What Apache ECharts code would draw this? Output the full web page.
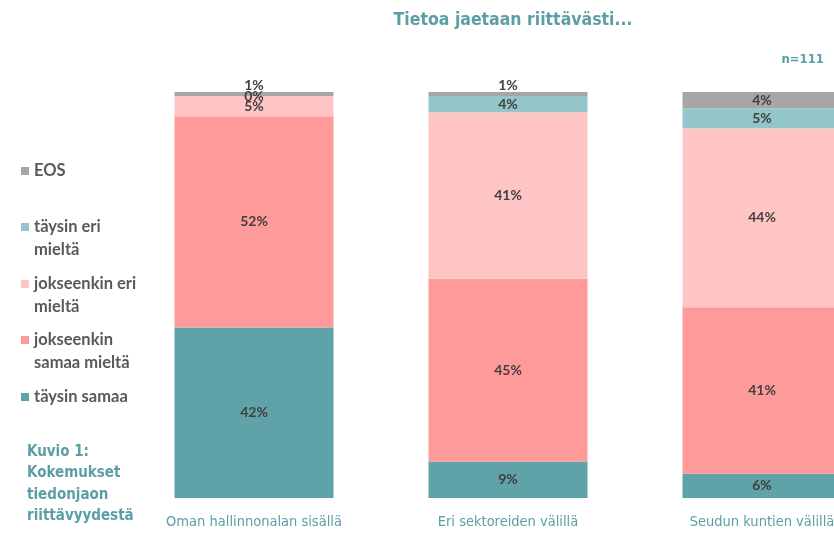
<!DOCTYPE html>
<html><head><meta charset="utf-8">
<script src="https://cdn.jsdelivr.net/npm/echarts@6/dist/echarts.min.js"></script>
<style>html,body{margin:0;padding:0;background:#fff}#c{width:834px;height:534px}</style>
</head><body><div id="c"></div>
<script>
const categories = ['Oman hallinnonalan sisällä', 'Eri sektoreiden välillä', 'Seudun kuntien välillä'];
const seriesNames = ['täysin samaa', 'jokseenkin samaa mieltä', 'jokseenkin eri mieltä', 'täysin eri mieltä', 'EOS'];
const taysinSamaa = [42, 9, 6];
const jokseenkinSamaa = [52, 45, 41];
const jokseenkinEri = [5, 41, 44];
const taysinEri = [0, 4, 5];
const eos = [1, 1, 4];
const colors = ['#5fa2a8', '#ff9a9a', '#ffc5c5', '#93c5ca', '#a6a6a6'];
const legendTexts = {
  'EOS': 'EOS',
  'täysin eri mieltä': 'täysin eri\nmieltä',
  'jokseenkin eri mieltä': 'jokseenkin eri\nmieltä',
  'jokseenkin samaa mieltä': 'jokseenkin\nsamaa mieltä',
  'täysin samaa': 'täysin samaa'
};
const legendY = { 'EOS': 171, 'täysin eri mieltä': 227, 'jokseenkin eri mieltä': 284, 'jokseenkin samaa mieltä': 340, 'täysin samaa': 397 };

const condensed = "'DejaVu Sans Condensed', sans-serif";
const teal = '#5b9fa6';
const allData = [taysinSamaa, jokseenkinSamaa, jokseenkinEri, taysinEri, eos];

const series = seriesNames.map((name, si) => ({
  name, type: 'bar', stack: 'a', barWidth: 159,
  itemStyle: { color: colors[si] },
  emphasis: { disabled: true },
  data: allData[si].map((v, ci) => {
    const d = { value: v };
    if (si === 4 && v <= 1) d.label = { position: 'top', distance: 0 };
    return d;
  }),
  label: {
    show: true, position: 'inside', formatter: '{c}%',
    fontFamily: 'Lato', fontWeight: 'bold', fontSize: 14, color: '#404040'
  }
}));

const legends = seriesNames.map(name => {
  const two = legendTexts[name].indexOf('\n') >= 0;
  return {
    data: [name], orient: 'vertical', left: 21,
    top: two ? legendY[name] - 34.5 : legendY[name] - 11.5,
    padding: 0, itemWidth: 8, itemHeight: 8, icon: 'rect', itemGap: 0,
    selectedMode: false,
    formatter: n => (two ? ' \n' : '') + legendTexts[n],
    textStyle: { fontFamily: 'Lato', fontWeight: 'bold', fontSize: 16.5, color: '#595959', lineHeight: 23 }
  };
});

const chart = echarts.init(document.getElementById('c'));
chart.setOption({
  backgroundColor: '#fff',
  animation: false,
  title: [
    { text: 'Tietoa jaetaan riittävästi...', left: 513, textAlign: 'center', top: 11, padding: 0,
      textStyle: { fontFamily: condensed, fontWeight: 'bold', fontSize: 17.5, color: teal } },
    { text: 'n=111', right: 10, top: 53, padding: 0,
      textStyle: { fontFamily: condensed, fontWeight: 'bold', fontSize: 13, color: teal } },
    { text: 'Kuvio 1:\nKokemukset\ntiedonjaon\nriittävyydestä', left: 27, top: 441, padding: 0,
      textStyle: { fontFamily: condensed, fontWeight: 'bold', fontSize: 15, lineHeight: 21.5, color: teal } }
  ],
  legend: legends,
  grid: { left: 127, width: 762, top: 92, bottom: 36, outerBoundsMode: 'none', containLabel: false },
  xAxis: {
    type: 'category', data: categories,
    axisLine: { show: false }, axisTick: { show: false },
    axisLabel: { margin: 17, interval: 0, fontFamily: condensed, fontSize: 14.5, color: teal }
  },
  yAxis: { type: 'value', min: 0, max: 100, show: false, splitLine: { show: false } },
  series
});
</script></body></html>
